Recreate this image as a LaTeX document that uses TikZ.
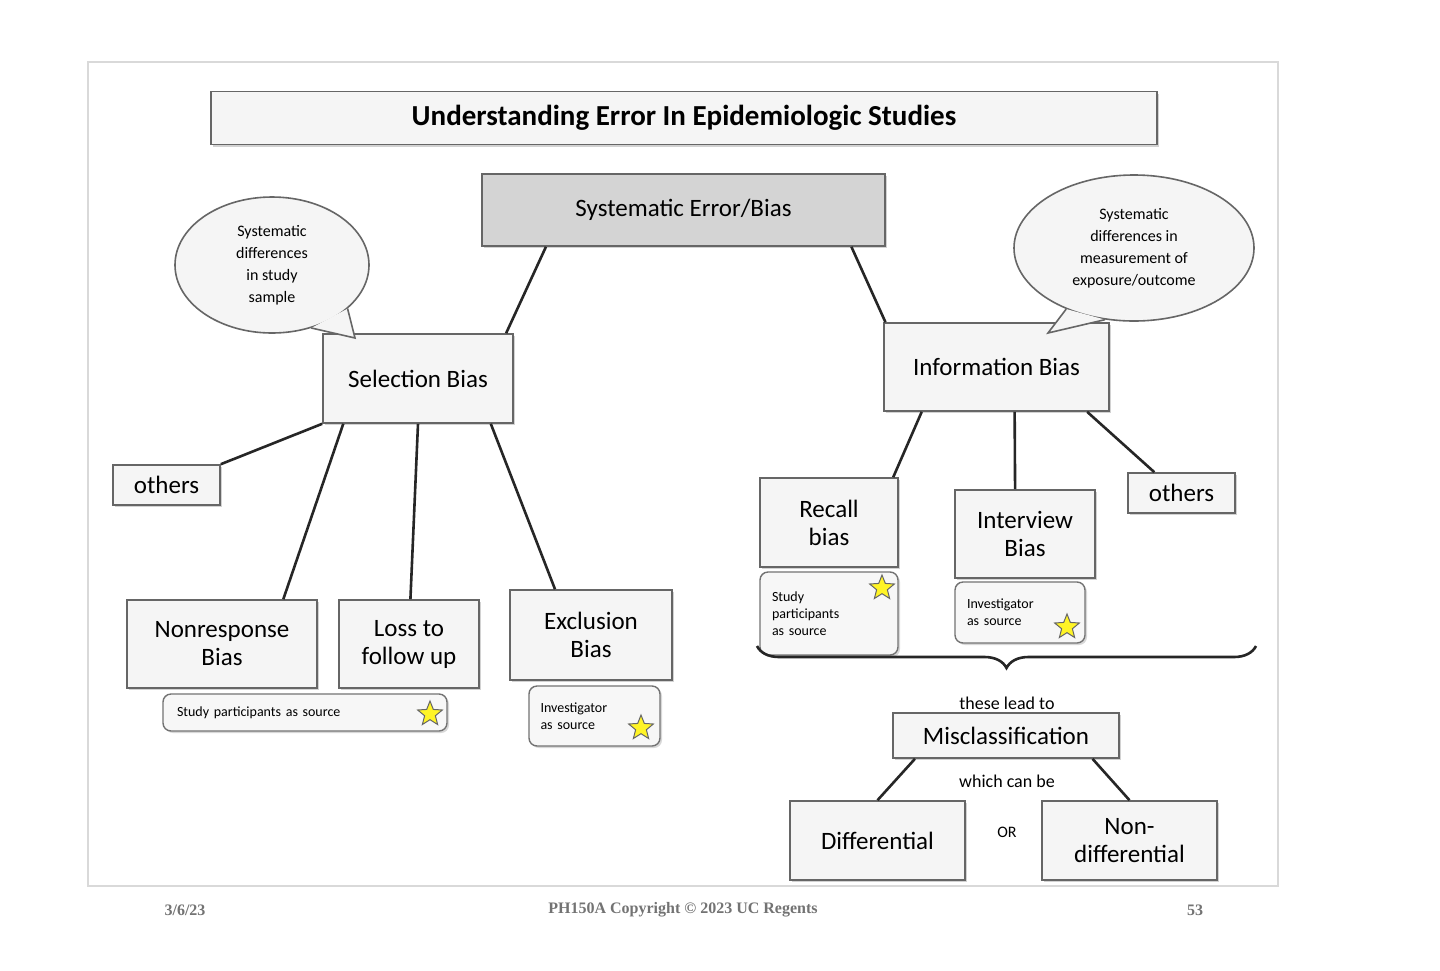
\documentclass[tikz,border=0pt]{standalone}
\usepackage{fontspec}
\setmainfont{Carlito}
\newfontfamily\footserif{Liberation Serif}
\usetikzlibrary{shapes.geometric,shadows,calc,decorations.pathreplacing}
\begin{document}
\begin{tikzpicture}[x=0.5pt,y=-0.5pt,
  box/.style={draw=black!60,fill=black!4,line width=0.8pt,align=center,inner sep=1pt,
    drop shadow={shadow xshift=1.2pt,shadow yshift=-1.2pt,fill=black!35}, font=\fontsize{12.5}{14}\selectfont},
  src/.style={draw=black!55,fill=black!3,rounded corners=4pt,line width=0.7pt,inner sep=2pt,
    drop shadow={shadow xshift=1pt,shadow yshift=-1pt,fill=black!30}, font=\fontsize{7}{8.5}\selectfont},
  st/.style={star,star points=5,star point ratio=2.3,minimum size=13pt,inner sep=0pt,fill=yellow!85,draw=black!60,line width=0.5pt},
  ln/.style={line width=1.3pt,black!85},
  bub/.style={ellipse,draw=black!60,fill=black!4,line width=0.8pt,align=center,font=\fontsize{8}{11}\selectfont,inner sep=0pt},
  ft/.style={font=\fontsize{8}{9}\selectfont\footserif\bfseries,text=black!55}]
\useasboundingbox (0,0) rectangle (1440,970);
\fill[white] (0,0) rectangle (1440,970);
\draw[black!15,line width=1pt] (88,62) rectangle (1278,886);
\node[ft] (d) at (185,910) {3/6/23};
\node[ft] (c) at (683,910) {PH150A Copyright © 2023 UC Regents};
\node[ft] (p) at (1195,910) {53};

\node[box,minimum width=473pt,minimum height=26.5pt,font=\fontsize{14.5}{17}\selectfont\bfseries,drop shadow={opacity=0}] (title) at (684,118) {Understanding Error In Epidemiologic Studies};
\node[box,fill=black!17,minimum width=201.5pt,minimum height=36pt] (sys) at (683.5,210) {Systematic Error/Bias};
\node[box,minimum width=95pt,minimum height=44.5pt] (sel) at (418,378.5) {Selection Bias};
\node[box,minimum width=112.5pt,minimum height=44pt] (info) at (996.5,367) {Information Bias};
\node[box,minimum width=53.5pt,minimum height=20pt] (othL) at (166.5,485) {others};
\node[box,minimum width=95pt,minimum height=44pt] (nonr) at (222,644) {Nonresponse\\Bias};
\node[box,minimum width=70pt,minimum height=44pt] (loss) at (409,644) {Loss to\\follow up};
\node[box,minimum width=81pt,minimum height=45pt] (excl) at (591,635) {Exclusion\\Bias};
\node[box,minimum width=69pt,minimum height=44.5pt] (recall) at (829,522.5) {Recall\\bias};
\node[box,minimum width=70pt,minimum height=44pt] (intv) at (1025,534) {Interview\\Bias};
\node[box,minimum width=53.5pt,minimum height=20pt] (othR) at (1181.5,493) {others};
\node[box,minimum width=113pt,minimum height=22.5pt] (mis) at (1006,735.5) {Misclassification};
\node[box,minimum width=87.5pt,minimum height=39.5pt] (diff) at (877.5,840.5) {Differential};
\node[box,minimum width=87.5pt,minimum height=39.5pt] (nond) at (1129.5,840.5) {Non-\\differential};

\node[src,minimum width=142pt,minimum height=18.5pt,text width=136pt,align=left] (sps1) at (305,712.5) {\hspace*{4pt}Study participants as source};
\node[src,minimum width=65.5pt,minimum height=30pt,text width=60pt,align=left] (inv1) at (594.5,716) {\hspace*{3pt}Investigator\\\hspace*{3pt}as source};
\node[src,minimum width=69pt,minimum height=41.5pt,text width=63pt,align=left] (sps2) at (829,613.5) {\hspace*{3pt}Study\\\hspace*{3pt}participants\\\hspace*{3pt}as source};
\node[src,minimum width=65pt,minimum height=30.5pt,text width=59pt,align=left] (inv2) at (1020,612.5) {\hspace*{3pt}Investigator\\\hspace*{3pt}as source};
\node[st] (s1) at (430,714) {};
\node[st] (s2) at (641,728) {};
\node[st] (s3) at (882,588) {};
\node[st] (s4) at (1067,627) {};

\node[bub,minimum width=97pt,minimum height=68pt] (bubL) at (272,265) {Systematic\\differences\\in study\\sample};
\node[bub,minimum width=120pt,minimum height=73pt] (bubR) at (1134,248) {Systematic\\differences in\\measurement of\\exposure/outcome};
\coordinate (tL) at (355,338);
\coordinate (tR) at (1048,333);
\fill[black!4] (bubL.-30) -- (tL) -- (bubL.-58) -- cycle;
\draw[black!60,line width=0.8pt] (bubL.-30) -- (tL) -- (bubL.-58);
\fill[black!4] (bubR.-112) -- (tR) -- (bubR.-138) -- cycle;
\draw[black!60,line width=0.8pt] (bubR.-112) -- (tR) -- (bubR.-138);

\draw[ln] ($(sys.south west)!0.16!(sys.south east)$) -- ($(sel.north west)!0.96!(sel.north east)$);
\draw[ln] ($(sys.south west)!0.915!(sys.south east)$) -- ($(info.north west)!0.01!(info.north east)$);
\draw[ln] (sel.south west) -- (othL.north east);
\draw[ln] ($(sel.south west)!0.11!(sel.south east)$) -- ($(nonr.north west)!0.82!(nonr.north east)$);
\draw[ln] ($(sel.south west)!0.5!(sel.south east)$) -- ($(loss.north west)!0.51!(loss.north east)$);
\draw[ln] ($(sel.south west)!0.88!(sel.south east)$) -- ($(excl.north west)!0.28!(excl.north east)$);
\draw[ln] ($(info.south west)!0.17!(info.south east)$) -- ($(recall.north west)!0.96!(recall.north east)$);
\draw[ln] ($(info.south west)!0.58!(info.south east)$) -- ($(intv.north west)!0.43!(intv.north east)$);
\draw[ln] ($(info.south west)!0.9!(info.south east)$) -- ($(othR.north west)!0.25!(othR.north east)$);
\draw[ln] ($(mis.south west)!0.1!(mis.south east)$) -- ($(diff.north west)!0.5!(diff.north east)$);
\draw[ln] ($(mis.south west)!0.88!(mis.south east)$) -- ($(nond.north west)!0.5!(nond.north east)$);

\coordinate (bA) at (757,646);
\coordinate (bB) at (1256,646);
\draw[line width=1.3pt,black!85,decorate,decoration={brace,amplitude=11pt}] (bB) -- (bA);
\node[font=\fontsize{9}{10}\selectfont] (lead) at (1007,703) {these lead to};
\node[font=\fontsize{9}{10}\selectfont] (wcb) at (1007,781) {which can be};
\node[font=\fontsize{8}{10}\selectfont] (or) at (1007,832) {OR};
\end{tikzpicture}
\end{document}
